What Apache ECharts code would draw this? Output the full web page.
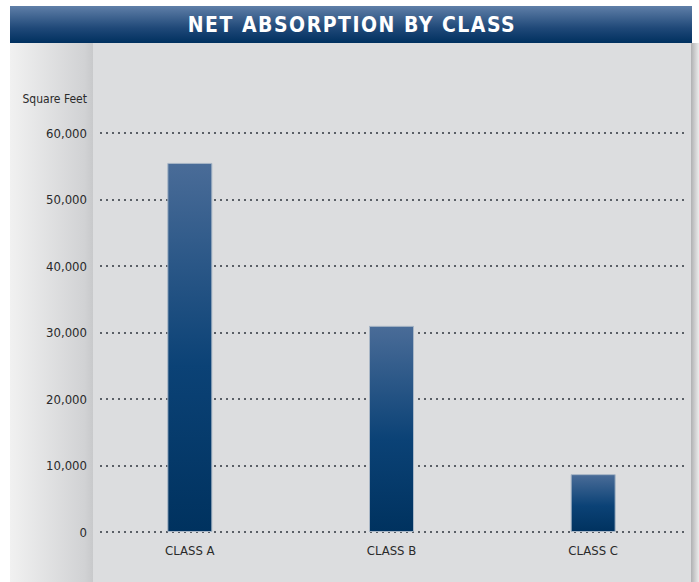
<!DOCTYPE html>
<html><head><meta charset="utf-8">
<script src="https://cdn.jsdelivr.net/npm/echarts@6/dist/echarts.min.js"></script>
<style>html,body{margin:0;padding:0;background:#fff;}#c{width:699px;height:582px;}</style>
</head><body><div id="c"></div>
<script>
const titleText = 'NET ABSORPTION BY CLASS';
const unitLabel = 'Square Feet';
const categories = ['CLASS A', 'CLASS B', 'CLASS C'];
const values = [55500, 31000, 8700];
const yTicks = [0, 10000, 20000, 30000, 40000, 50000, 60000];

const FONT = '"Liberation Sans Narrow", "DejaVu Sans Condensed", "Liberation Sans", Arial, sans-serif';
const chart = echarts.init(document.getElementById('c'), null, {renderer: 'svg'});
const fmt = v => Number(v).toLocaleString('en-US');
chart.setOption({
  animation: false,
  backgroundColor: '#ffffff',
  graphic: [
    {type: 'rect', z: -10, shape: {x: 690, y: 43, width: 9, height: 539},
     style: {fill: new echarts.graphic.LinearGradient(0,0,1,0,[{offset:0,color:'#a8a9ab'},{offset:1,color:'#ececec'}])}},
    {type: 'rect', z: -10, shape: {x: 10, y: 43, width: 681, height: 539}, style: {fill: '#dcdddf'}},
    {type: 'rect', z: -9, shape: {x: 10, y: 43, width: 83, height: 539},
     style: {fill: new echarts.graphic.LinearGradient(0,0,1,0,[{offset:0,color:'#f1f1f1'},{offset:0.9,color:'#d1d2d4'},{offset:1,color:'#c8c9cb'}])}},
    {type: 'rect', z: -8, shape: {x: 10, y: 6, width: 682, height: 37},
     style: {fill: new echarts.graphic.LinearGradient(0,0,0,1,[{offset:0,color:'#5f7fa8'},{offset:0.6,color:'#1f4878'},{offset:1,color:'#00305f'}])}},
    {type: 'text', id: 'ttl', z: 10, x: 352, y: 25,
     style: {text: titleText, fill: '#ffffff', font: 'bold 21px ' + FONT, align: 'center', verticalAlign: 'middle'}}
  ],
  grid: [
    {left: 89, right: 5, top: 133, bottom: 50},
    {left: 100, right: 11, top: 133, bottom: 50}
  ],
  xAxis: [
    {type: 'category', gridIndex: 0, data: categories,
     axisLine: {show: false}, axisTick: {show: false},
     axisLabel: {color: '#2a2a2a', fontSize: 13, fontFamily: FONT, margin: 12}},
    {type: 'category', gridIndex: 1, data: categories, show: false}
  ],
  yAxis: [
    {type: 'value', gridIndex: 0, min: 0, max: 60000, interval: 10000, show: false, splitLine: {show: false}},
    {type: 'value', gridIndex: 1, min: 0, max: 60000, interval: 10000,
     name: unitLabel, nameLocation: 'end', nameGap: 28,
     nameTextStyle: {color: '#2a2a2a', fontSize: 12, fontFamily: FONT, align: 'right', padding: [0, 13, 0, 0]},
     axisLine: {show: false}, axisTick: {show: false},
     axisLabel: {color: '#2a2a2a', fontSize: 13, fontFamily: FONT, margin: 13, formatter: fmt,
       customValues: yTicks},
     splitLine: {show: true, lineStyle: {color: '#5a5f66', width: 2, type: [2, 4]}}}
  ],
  series: [{
    type: 'bar', xAxisIndex: 0, yAxisIndex: 0, data: values, barWidth: 45, z: 5,
    itemStyle: {
      color: new echarts.graphic.LinearGradient(0,0,0,1,[{offset:0,color:'#4a6c98'},{offset:0.55,color:'#0b4276'},{offset:1,color:'#00325f'}]),
      borderColor: '#a8b6c6', borderWidth: 1
    }
  }]
});
function spaceTitle(){
  document.querySelectorAll('#c svg text').forEach(t => {
    if (t.textContent === titleText) { t.style.letterSpacing = '1.5px'; }
  });
}
spaceTitle();
chart.on('finished', spaceTitle);
</script></body></html>
